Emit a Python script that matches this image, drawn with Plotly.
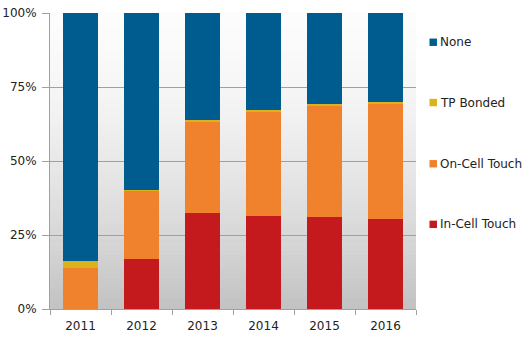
import plotly.graph_objects as go

years = ["2011", "2012", "2013", "2014", "2015", "2016"]
in_cell = [0.0, 16.9, 32.4, 31.5, 31.0, 30.4]
on_cell = [13.7, 23.1, 30.8, 35.3, 37.8, 38.9]
tp_bonded = [2.6, 0.3, 0.5, 0.4, 0.3, 0.5]
none = [round(100 - a - b - c, 1) for a, b, c in zip(in_cell, on_cell, tp_bonded)]

series_names = ["In-Cell Touch", "On-Cell Touch", "TP Bonded", "None"]
series_values = [in_cell, on_cell, tp_bonded, none]
series_colors = ["#c41a1d", "#f0822d", "#d9b21c", "#005c8f"]
y_ticks = [0, 25, 50, 75, 100]
y_tick_labels = ["0%", "25%", "50%", "75%", "100%"]

FONT = "DejaVu Sans"
FS = 12
TXT = "#222222"
W, H = 525, 337
ML, MR, MT, MB = 50, 108.5, 13, 27.5

fig = go.Figure()
for name, vals, col in zip(series_names, series_values, series_colors):
    fig.add_trace(go.Bar(x=years, y=vals, name=name, marker=dict(color=col, line=dict(width=0)),
                         showlegend=False))

shapes = []
# vertical gradient behind the plot area: near white at top, grey at bottom
n = 60
for i in range(n):
    t = (i + 0.5) / n
    c = int(round(252 - 58 * t ** 1.6))
    shapes.append(dict(type="rect", xref="paper", yref="paper", layer="below",
                       x0=0, x1=1, y0=1 - (i + 1) / n, y1=1 - i / n + 0.002,
                       fillcolor=f"rgb({c},{c},{c})", line=dict(width=0)))

# legend drawn as swatches + labels, top entry first
pw = W - ML - MR
ph = H - MT - MB
legend_y_px = [42.3, 102.7, 164.0, 224.7]
annotations = []
for name, col, ypx in zip(reversed(series_names), reversed(series_colors), legend_y_px):
    yc = (H - MB - ypx) / ph
    x0 = (430 - ML) / pw
    x1 = (437.5 - ML) / pw
    half = 3.7 / ph
    shapes.append(dict(type="rect", xref="paper", yref="paper", x0=x0, x1=x1,
                       y0=yc - half, y1=yc + half, fillcolor=col, line=dict(width=0)))
    annotations.append(dict(xref="paper", yref="paper", x=(439 - ML) / pw, y=yc,
                            text=name, showarrow=False, xanchor="left", yanchor="middle",
                            font=dict(family=FONT, size=FS, color=TXT)))

fig.update_layout(
    barmode="stack",
    bargap=0.44,
    width=W, height=H,
    margin=dict(l=ML, r=MR, t=MT, b=MB, pad=0, autoexpand=False),
    paper_bgcolor="white",
    plot_bgcolor="rgba(0,0,0,0)",
    shapes=shapes,
    annotations=annotations,
    font=dict(family=FONT, size=FS, color=TXT),
    xaxis=dict(type="category", showline=True, linecolor="#a0a0a0", linewidth=1,
               ticks="outside", tickson="boundaries", ticklen=5, tickcolor="#a0a0a0",
               showgrid=False, automargin=False, ticklabelstandoff=6,
               tickfont=dict(family=FONT, size=FS, color=TXT)),
    yaxis=dict(range=[0, 100], tickvals=y_ticks, ticktext=y_tick_labels,
               showline=True, linecolor="#a0a0a0", linewidth=1,
               ticks="outside", ticklen=7, tickcolor="#a0a0a0", automargin=False,
               ticklabelstandoff=3,
               showgrid=True, gridcolor="#a0a0a0", gridwidth=1, zeroline=False,
               tickfont=dict(family=FONT, size=FS, color=TXT)),
)

fig.write_html("out.html")
